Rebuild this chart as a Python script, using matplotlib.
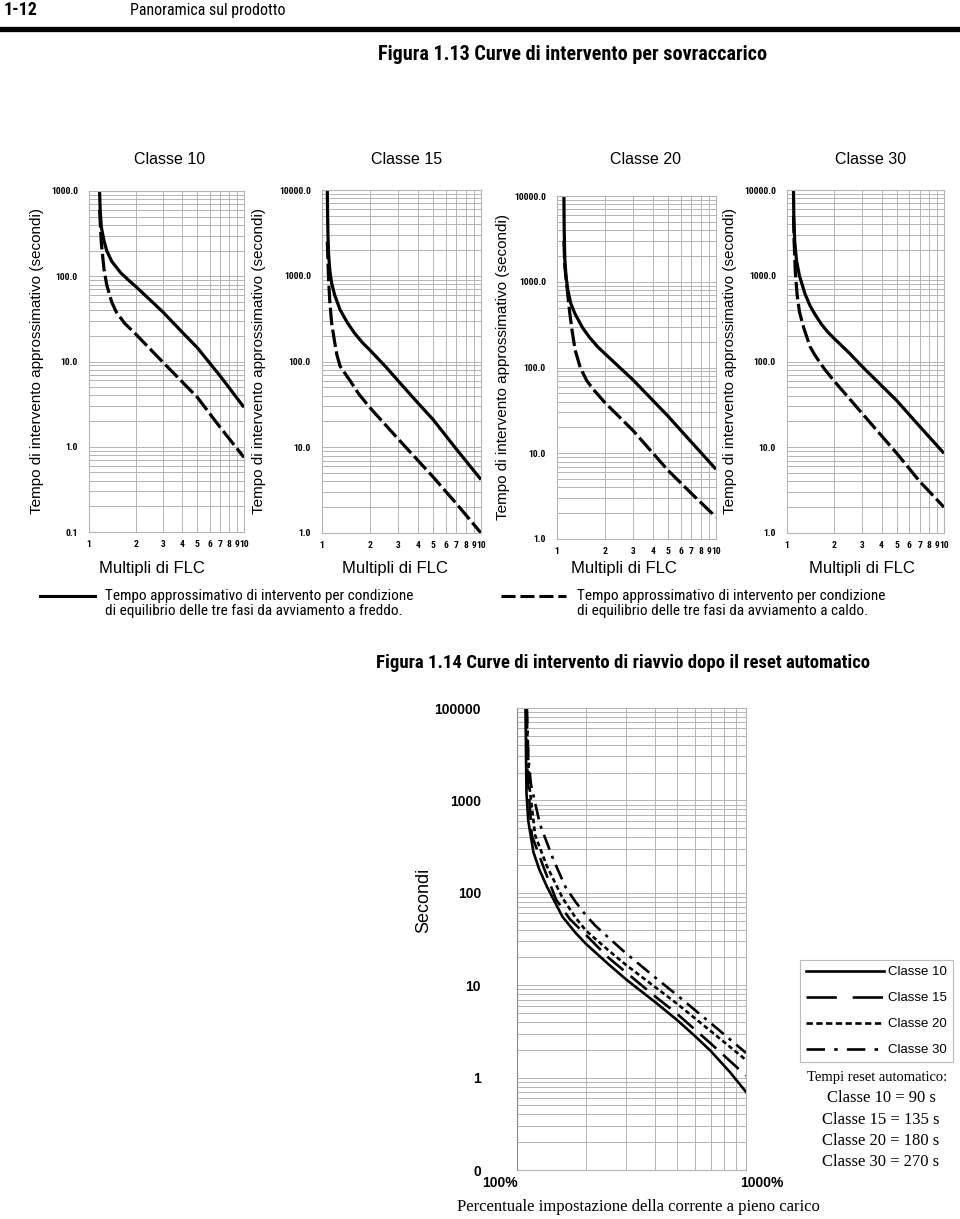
import os
import matplotlib
matplotlib.use("Agg")
import matplotlib.pyplot as plt
from matplotlib import font_manager
from matplotlib.font_manager import FontProperties
from matplotlib.ticker import FixedLocator, FixedFormatter, NullFormatter, LogLocator
from matplotlib.lines import Line2D
from matplotlib.transforms import ScaledTranslation

# ---------------- data ----------------
class_titles = ["Classe 10", "Classe 15", "Classe 20", "Classe 30"]

c10_cold_x = [1.17, 1.18, 1.2, 1.25, 1.3, 1.4, 1.6, 1.8, 2, 2.5, 3, 4, 5, 7, 10]
c10_cold_y = [1000, 600, 380, 260, 200, 150, 110, 90, 76, 52, 38, 22, 14.5, 6.8, 2.9]
c10_hot_x = [1.17, 1.2, 1.25, 1.3, 1.4, 1.5, 1.7, 2, 3, 5, 7, 10]
c10_hot_y = [600, 250, 120, 80, 50, 38, 28, 21, 9.8, 3.8, 1.7, 0.75]

c15_cold_x = [1.08, 1.085, 1.09, 1.1, 1.12, 1.15, 1.2, 1.3, 1.45, 1.6, 1.8, 2, 2.5, 3, 4, 5, 7, 10]
c15_cold_y = [10000, 5000, 3000, 1800, 1150, 820, 600, 400, 280, 215, 165, 136, 88, 60, 33, 21, 9.5, 4.2]
c15_hot_x = [1.08, 1.09, 1.1, 1.12, 1.15, 1.2, 1.24, 1.3, 1.4, 1.5, 1.7, 2, 3, 5, 7, 10]
c15_hot_y = [2500, 1500, 900, 500, 280, 170, 120, 88, 72, 60, 42, 29, 12.6, 4.5, 2.2, 1.0]

c20_cold_x = [1.105, 1.11, 1.12, 1.14, 1.17, 1.22, 1.3, 1.45, 1.6, 1.8, 2, 3, 5, 7, 10]
c20_cold_y = [10000, 4000, 1800, 1150, 800, 560, 420, 290, 225, 175, 145, 72, 27, 13.5, 6.5]
c20_hot_x = [1.105, 1.12, 1.155, 1.2, 1.24, 1.3, 1.4, 1.54, 1.7, 2, 3, 5, 7, 10]
c20_hot_y = [3000, 1500, 870, 450, 280, 160, 100, 70, 55, 39, 18.5, 6.3, 3.4, 1.8]

c30_cold_x = [1.1, 1.105, 1.12, 1.15, 1.2, 1.3, 1.4, 1.5, 1.65, 1.8, 2, 2.5, 3, 5, 7, 10]
c30_cold_y = [10000, 5000, 2500, 1500, 1000, 620, 450, 360, 275, 225, 185, 125, 88, 35, 17.5, 8.5]
c30_hot_x = [1.1, 1.11, 1.13, 1.16, 1.2, 1.28, 1.4, 1.5, 1.72, 2, 3, 5, 7, 10]
c30_hot_y = [5000, 2500, 1100, 600, 380, 245, 150, 120, 83, 59, 25, 8.5, 4.0, 2.0]

cold_x = [c10_cold_x, c15_cold_x, c20_cold_x, c30_cold_x]
cold_y = [c10_cold_y, c15_cold_y, c20_cold_y, c30_cold_y]
hot_x = [c10_hot_x, c15_hot_x, c20_hot_x, c30_hot_x]
hot_y = [c10_hot_y, c15_hot_y, c20_hot_y, c30_hot_y]

top_ylims = [(0.1, 1000), (1, 10000), (1, 10000), (1, 10000)]
top_yticks = [[0.1, 1, 10, 100, 1000], [1, 10, 100, 1000, 10000],
              [1, 10, 100, 1000, 10000], [1, 10, 100, 1000, 10000]]
top_yticklabels = [["0.1", "1.0", "10.0", "100.0", "1000.0"],
                   ["1.0", "10.0", "100.0", "1000.0", "10000.0"],
                   ["1.0", "10.0", "100.0", "1000.0", "10000.0"],
                   ["1.0", "10.0", "100.0", "1000.0", "10000.0"]]
top_xticks = [1, 2, 3, 4, 5, 6, 7, 8, 9, 10]
top_xticklabels = ["1", "2", "3", "4", "5", "6", "7", "8", "9", "10"]

# Figure 1.14 (percent of full-load current setting)
r10_x = [109, 109.5, 110, 112, 118, 125, 135, 158, 180, 200, 250, 300, 400, 500, 600, 700, 850, 1000]
r10_y = [10000, 3000, 1200, 600, 275, 180, 117, 55, 37, 28, 17, 11.5, 6.6, 4.2, 2.8, 1.95, 1.15, 0.7]
r15_x = [109.5, 110, 112, 116, 130, 148, 170, 200, 250, 300, 400, 500, 700, 1000]
r15_y = [10000, 3000, 1500, 420, 195, 85, 52, 35, 20, 13.7, 7.6, 4.9, 2.35, 1.05]
r20_x = [110, 111, 113, 120, 135, 158, 180, 200, 250, 300, 400, 500, 700, 1000]
r20_y = [10000, 5000, 1500, 420, 195, 88, 54, 39, 24, 16.5, 9.6, 6.3, 3.2, 1.55]
r30_x = [110.5, 112, 115, 126, 144, 163, 180, 200, 220, 250, 300, 400, 500, 700, 1000]
r30_y = [10000, 3000, 1500, 550, 230, 115, 80, 57, 44, 33, 22, 12.2, 7.8, 3.9, 1.85]
reset_labels = ["Classe 10", "Classe 15", "Classe 20", "Classe 30"]
reset_times = ["Classe 10 = 90 s", "Classe 15 = 135 s", "Classe 20 = 180 s", "Classe 30 = 270 s"]
r_yticks = [0.1, 1, 10, 100, 1000, 10000]
r_yticklabels = ["0", "1", "10", "100", "1000", "100000"]
r_xticks = [100, 1000]
r_xticklabels = ["100%", "1000%"]

# ---------------- fonts ----------------
names = {f.name for f in font_manager.fontManager.ttflist}
SANS = "Liberation Sans" if "Liberation Sans" in names else "DejaVu Sans"
SERIF = "Liberation Serif" if "Liberation Serif" in names else "DejaVu Serif"


def find_narrow(bold):
    prefs = ["liberationsansnarrow", "robotocondensed", "opensanscondensed",
             "notosanscondensed", "dejavusanscondensed", "arialnarrow"]
    files = sorted({f.fname for f in font_manager.fontManager.ttflist})
    for p in prefs:
        for fn in files:
            base = os.path.basename(fn).lower().replace("-", "").replace("_", "").replace(" ", "")
            if p not in base:
                continue
            if "italic" in base or "oblique" in base:
                continue
            bad = ["semibold", "extrabold", "light", "medium", "black", "thin", "extralight"]
            if any(b in base for b in bad):
                continue
            isbold = "bold" in base
            if isbold == bold:
                return fn
    return None


_nr = find_narrow(False)
_nb = find_narrow(True)
NARROW_R = FontProperties(fname=_nr) if _nr else FontProperties(family=SANS)
NARROW_B = FontProperties(fname=_nb) if _nb else FontProperties(family=SANS, weight="bold")
SCALE = 1.0 if _nr else 0.82


def nr(size):
    p = NARROW_R.copy()
    p.set_size(size * SCALE)
    return p


def nb(size):
    p = NARROW_B.copy()
    p.set_size(size * SCALE)
    return p


W, H = 960, 1219
fig = plt.figure(figsize=(W / 100, H / 100), dpi=100)
fig.patch.set_facecolor("white")


def ax_px(l, t, r, b):
    return fig.add_axes([l / W, 1 - b / H, (r - l) / W, (b - t) / H])


def fx(x):
    return x / W


def fy(y):
    return 1 - y / H


GRID = "#b4b4b4"

# ---------------- header ----------------
fig.text(fx(4), fy(10), "1-12", fontproperties=nb(13), va="center", ha="left")
fig.text(fx(130), fy(10), "Panoramica sul prodotto", fontproperties=nr(11.5), va="center", ha="left")
fig.add_artist(Line2D([0, 1], [fy(29), fy(29)], color="black", lw=3.8, transform=fig.transFigure))
fig.text(fx(573), fy(55), "Figura 1.13 Curve di intervento per sovraccarico", fontproperties=nb(14.5),
         ha="center", va="center")

# ---------------- Figure 1.13 : four panels ----------------
boxes = [(89, 191, 244, 532), (322, 190, 481, 533), (557, 196, 716, 539), (787, 190, 944, 533)]
title_x = [170, 407, 645, 871]
ylabel_x = [37, 259, 503, 730]
xlabel_x = [152, 395, 624, 862]

for i, (l, t, r, b) in enumerate(boxes):
    ax = ax_px(l, t, r, b)
    ax.set_xscale("log")
    ax.set_yscale("log")
    ax.set_xlim(1, 10)
    ax.set_ylim(*top_ylims[i])
    ax.xaxis.set_major_locator(FixedLocator(top_xticks))
    ax.xaxis.set_major_formatter(FixedFormatter(top_xticklabels))
    ax.xaxis.set_minor_locator(FixedLocator([]))
    ax.yaxis.set_major_locator(FixedLocator(top_yticks[i]))
    ax.yaxis.set_major_formatter(FixedFormatter(top_yticklabels[i]))
    ax.yaxis.set_minor_locator(LogLocator(base=10, subs=range(2, 10)))
    ax.yaxis.set_minor_formatter(NullFormatter())
    ax.tick_params(which="both", length=0)
    ax.tick_params(axis="x", pad=6)
    ax.tick_params(axis="y", pad=8)
    for lab in ax.get_xticklabels() + ax.get_yticklabels():
        lab.set_fontproperties(nb(6.8))
    ax.grid(True, which="both", color=GRID, lw=0.7)
    for s in ax.spines.values():
        s.set_color(GRID)
        s.set_linewidth(0.8)
    ax.plot(hot_x[i], hot_y[i], color="black", lw=2.3, ls=(0, (5.5, 1.4)), solid_capstyle="butt")
    ax.plot(cold_x[i], cold_y[i], color="black", lw=2.3, solid_capstyle="butt")

    fig.text(fx(title_x[i]), fy(160), class_titles[i], family=SANS, fontsize=11.5, ha="center", va="center")
    fig.text(fx(ylabel_x[i]), fy((t + b) / 2), "Tempo di intervento approssimativo (secondi)",
             family=SANS, fontsize=11, rotation=90, ha="center", va="center")
    fig.text(fx(xlabel_x[i]), fy(569), "Multipli di FLC", family=SANS, fontsize=12, ha="center", va="center")

# legend lines under Figure 1.13
fig.add_artist(Line2D([fx(40), fx(95)], [fy(596), fy(596)], color="black", lw=2.2,
                      transform=fig.transFigure))
fig.add_artist(Line2D([fx(501), fx(566)], [fy(596), fy(596)], color="black", lw=2.2,
                      ls=(0, (4.6, 1.6)), transform=fig.transFigure))
fig.text(fx(105), fy(596), "Tempo approssimativo di intervento per condizione", fontproperties=nr(11),
         ha="left", va="center")
fig.text(fx(105), fy(611), "di equilibrio delle tre fasi da avviamento a freddo.", fontproperties=nr(11),
         ha="left", va="center")
fig.text(fx(577), fy(596), "Tempo approssimativo di intervento per condizione", fontproperties=nr(11),
         ha="left", va="center")
fig.text(fx(577), fy(611), "di equilibrio delle tre fasi da avviamento a caldo.", fontproperties=nr(11),
         ha="left", va="center")

# ---------------- Figure 1.14 ----------------
fig.text(fx(623), fy(663), "Figura 1.14 Curve di intervento di riavvio dopo il reset automatico",
         fontproperties=nb(13.5), ha="center", va="center")

ax2 = ax_px(517, 708, 746, 1170)
ax2.set_xscale("log")
ax2.set_yscale("log")
ax2.set_xlim(100, 1000)
ax2.set_ylim(0.1, 10000)
ax2.xaxis.set_major_locator(FixedLocator(r_xticks))
ax2.xaxis.set_major_formatter(FixedFormatter(r_xticklabels))
ax2.xaxis.set_minor_locator(FixedLocator([200, 300, 400, 500, 600, 700, 800, 900]))
ax2.xaxis.set_minor_formatter(NullFormatter())
ax2.yaxis.set_major_locator(FixedLocator(r_yticks))
ax2.yaxis.set_major_formatter(FixedFormatter(r_yticklabels))
ax2.yaxis.set_minor_locator(LogLocator(base=10, subs=range(2, 10)))
ax2.yaxis.set_minor_formatter(NullFormatter())
ax2.tick_params(which="both", length=0)
ax2.tick_params(axis="y", pad=26)
ax2.tick_params(axis="x", pad=4)
for lab in ax2.get_xticklabels() + ax2.get_yticklabels():
    lab.set_family(SANS)
    lab.set_weight("bold")
    lab.set_fontsize(10)
for lab, dx in zip(ax2.get_xticklabels(), [-17, 16]):
    lab.set_transform(lab.get_transform() + ScaledTranslation(dx / 100, 0, fig.dpi_scale_trans))
ax2.grid(True, which="both", color=GRID, lw=0.7)
for s in ax2.spines.values():
    s.set_color(GRID)
    s.set_linewidth(0.8)
ax2.spines["left"].set_color("#888888")

styles = ["-", (0, (8, 3.5)), (0, (1.8, 1.2)), (0, (6, 2.5, 1.2, 2.5))]
legend_styles = ["-", (0, (11.5, 6)), (0, (2.4, 1.3)), (0, (7, 3.5, 1.3, 3.5))]
rx = [r10_x, r15_x, r20_x, r30_x]
ry = [r10_y, r15_y, r20_y, r30_y]
for k in range(4):
    ax2.plot(rx[k], ry[k], color="black", lw=1.9, ls=styles[k])
proxies = [Line2D([], [], color="black", lw=1.9, ls=legend_styles[k]) for k in range(4)]

fig.text(fx(424), fy(900), "Secondi", family=SANS, fontsize=13, rotation=90, ha="center", va="center")
fig.text(fx(638), fy(1207), "Percentuale impostazione della corrente a pieno carico", family=SERIF,
         fontsize=12, ha="center", va="center")

leg = fig.legend(handles=proxies, labels=reset_labels, loc="upper left",
                 bbox_to_anchor=(fx(800), fy(960)), borderaxespad=0, frameon=True, fancybox=False,
                 handlelength=5.9, handletextpad=0.3, labelspacing=1.05, borderpad=0.45,
                 prop={"family": SANS, "size": 9.5})
leg.get_frame().set_edgecolor("#aaaaaa")
leg.get_frame().set_linewidth(0.8)

fig.text(fx(877), fy(1077), "Tempi reset automatico:", family=SERIF, fontsize=10.5, ha="center", va="center")
for k, txt in enumerate(reset_times):
    fig.text(fx(881), fy(1098 + 21.5 * k), txt, family=SERIF, fontsize=12, ha="center", va="center")

fig.savefig("out.png", dpi=100, facecolor="white")
